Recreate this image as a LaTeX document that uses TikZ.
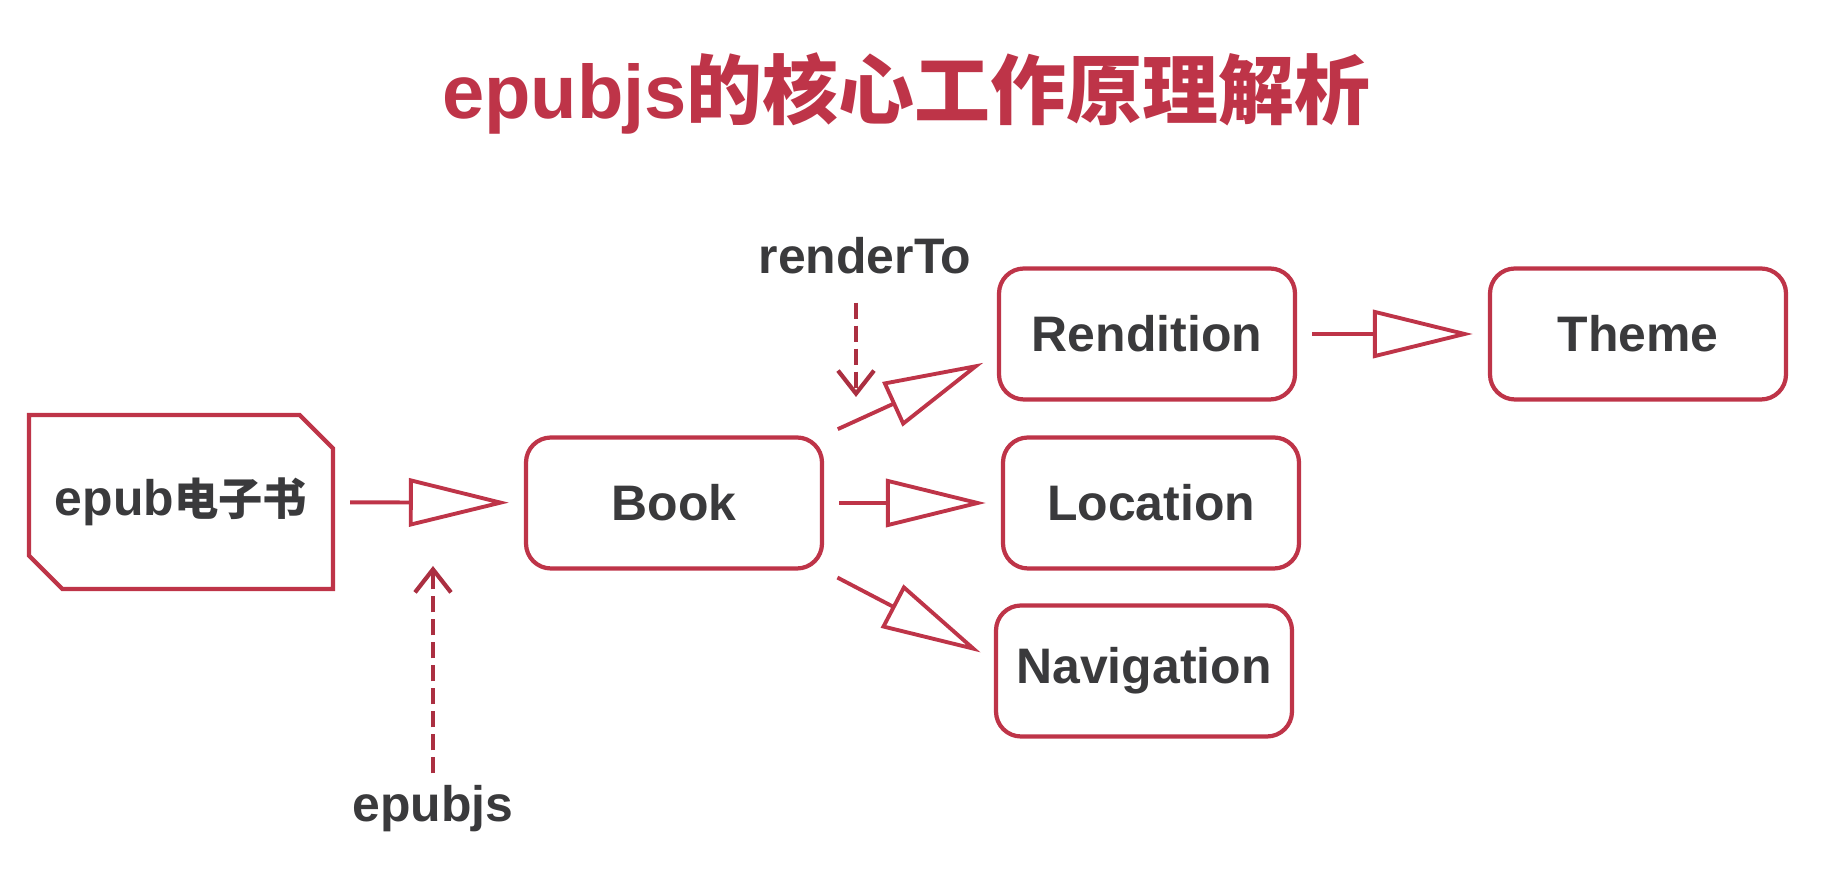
\documentclass[tikz,border=0pt]{standalone}
\usepackage{fontspec}
\setmainfont{Liberation Sans}
\newfontfamily\cjk{Noto Sans CJK SC}
\usetikzlibrary{arrows.meta, shapes.misc}
\definecolor{epubred}{RGB}{190,52,72}
\definecolor{inkgrey}{RGB}{58,58,60}

\begin{document}
\begin{tikzpicture}[
  font=\fontsize{14.2}{17}\selectfont\bfseries,
  every node/.style={text=inkgrey},
  box/.style={draw=epubred, line width=1.2pt, rounded corners=2.5mm, fill=white,
    minimum width=2.96cm, minimum height=1.31cm},
  flow/.style={draw=epubred, line width=1.1pt, shorten <=1.5mm, shorten >=1.5mm,
    -{Triangle[fill=white, length=10mm, width=4.8mm]}},
  hint/.style={draw=epubred!90!black, line width=1.2pt, dash pattern=on 1.6mm off 0.7mm,
    -{Straight Barb[length=2.3mm, width=3.6mm]}}]
\useasboundingbox (0,0) rectangle (18.21,8.95);

% Title
\node[text=epubred, font=\fontsize{21.6}{26}\selectfont\bfseries] (title) at (9.06, 8.02) {epubjs{\cjk 的核心工作原理解析}};

% Input file
\node[box, sharp corners, chamfered rectangle, chamfered rectangle corners={north east, south west},
  chamfered rectangle xsep=2.1mm, inner xsep=0pt, minimum width=3.04cm, minimum height=1.74cm] (epub) at (1.81, 3.93) {epub{\cjk\fontsize{12.6}{15}\selectfont 电子书}};

% Book and its parts
\node[box] (book) at (6.74, 3.92) {Book};
\foreach \name/\x/\y in {Rendition/11.47/5.61, Location/11.51/3.92, Navigation/11.44/2.24}
  \node[box] (\name) at (\x, \y) {\name};
\node[box] (theme) at (16.38, 5.61) {Theme};

% Flows
\draw[flow] (epub) -- (book);
\draw[flow] (book.north east) -- ([yshift=4.5mm]Rendition.south west);
\draw[flow] (book) -- (Location);
\draw[flow] (book.south east) -- ([yshift=-5.6mm]Navigation.north west);
\draw[flow] (Rendition) -- (theme);

% Hints
\node (epubjs) at (4.33, 0.86) {epubjs};
\coordinate (epubjsTip) at (4.33, 3.29);
\draw[hint] (epubjs) -- (epubjsTip);

\node (renderTo) at (8.65, 6.39) {renderTo};
\coordinate (renderTip) at (8.56, 4.98);
\draw[hint, shorten <=1.6mm] (renderTo.south -| renderTip) -- (renderTip);
\end{tikzpicture}
\end{document}
